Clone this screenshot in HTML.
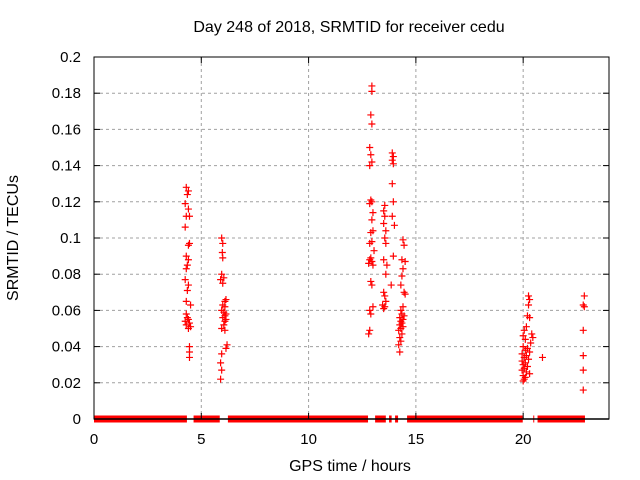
<!DOCTYPE html>
<html><head><meta charset="utf-8"><style>
html,body{margin:0;padding:0;background:#fff;}
svg{display:block;font-family:"Liberation Sans",sans-serif;}
</style></head><body>
<svg id="chart" width="640" height="480" viewBox="0 0 640 480">
<rect width="640" height="480" fill="#fff"/>
<text x="349" y="32" font-size="16" text-anchor="middle" fill="#000">Day 248 of 2018, SRMTID for receiver cedu</text>
<text x="350" y="471" font-size="16" text-anchor="middle" fill="#000">GPS time / hours</text>
<text x="18" y="238" font-size="16" text-anchor="middle" fill="#000" transform="rotate(-90 18 238)">SRMTID / TECUs</text>
<g id="grid"></g>
<g id="marks"></g>
<g id="axes"></g>
</svg>
<script>
const xTicks=[0,5,10,15,20];
const yTicks=[0,0.02,0.04,0.06,0.08,0.1,0.12,0.14,0.16,0.18,0.2];
const yTickLabels=["0","0.02","0.04","0.06","0.08","0.1","0.12","0.14","0.16","0.18","0.2"];
const zeroRanges=[[0,4.33],[4.64,5.86],[6.24,12.77],[13.1,13.6],[13.75,13.87],[14.03,14.17],[14.59,19.98],[20.47,20.5],[20.67,22.88]];
const times=[
4.3,4.4,4.35,4.25,4.4,4.3,4.45,4.25,4.45,4.4,4.3,4.4,4.35,4.3,4.25,4.4,4.35,4.3,4.5,4.3,4.35,4.4,4.25,4.45,4.3,4.5,4.4,4.45,4.45,4.45,
5.95,6.0,5.98,6.0,5.95,6.05,5.9,6.0,6.15,6.1,6.0,6.1,5.95,6.05,6.15,6.1,6.0,6.15,6.1,6.05,5.95,6.1,6.2,6.15,5.95,5.9,5.95,5.9,
12.95,12.95,12.9,12.95,12.85,12.9,12.95,12.85,12.9,12.95,12.85,13.0,12.95,13.0,12.9,12.95,12.85,13.05,12.9,12.85,12.95,12.8,13.0,12.9,12.95,13.0,12.85,12.9,12.85,12.8,
13.55,13.5,13.55,13.5,13.6,13.55,13.6,13.5,13.65,13.6,13.5,13.55,13.6,13.45,13.5,13.55,
13.9,13.95,13.9,13.95,13.9,13.95,13.9,14.0,13.95,13.85,
14.4,14.45,14.35,14.5,14.4,14.35,14.3,14.45,14.5,14.4,14.3,14.35,14.45,14.25,14.4,14.3,14.35,14.25,14.4,14.3,14.2,14.35,14.25,14.3,14.2,14.25,
20.25,20.3,20.25,20.2,20.3,20.15,20.05,20.4,20.0,20.45,20.1,20.35,20.0,20.2,20.1,20.3,19.95,20.15,20.05,20.25,19.95,20.1,20.0,20.2,20.05,19.95,20.15,20.3,20.0,20.1,20.05,20.0,20.9,
22.85,22.8,22.85,22.8,22.8,22.8,22.8];
const values=[
0.128,0.126,0.124,0.119,0.116,0.112,0.112,0.106,0.097,0.096,0.09,0.088,0.085,0.083,0.077,0.074,0.071,0.065,0.063,0.058,0.056,0.055,0.054,0.053,0.052,0.051,0.05,0.04,0.037,0.034,
0.1,0.097,0.092,0.089,0.08,0.078,0.077,0.075,0.066,0.065,0.063,0.062,0.06,0.059,0.058,0.057,0.056,0.055,0.054,0.052,0.05,0.049,0.041,0.039,0.036,0.031,0.027,0.022,
0.184,0.181,0.168,0.163,0.15,0.146,0.142,0.14,0.121,0.12,0.119,0.114,0.11,0.104,0.103,0.098,0.097,0.093,0.089,0.088,0.087,0.086,0.085,0.076,0.074,0.062,0.06,0.058,0.049,0.047,
0.118,0.115,0.112,0.108,0.104,0.1,0.097,0.088,0.085,0.08,0.07,0.068,0.065,0.063,0.061,0.062,
0.147,0.145,0.143,0.141,0.13,0.12,0.112,0.107,0.09,0.074,
0.099,0.096,0.088,0.087,0.083,0.079,0.074,0.07,0.069,0.062,0.06,0.058,0.057,0.056,0.055,0.054,0.053,0.052,0.051,0.05,0.049,0.047,0.045,0.043,0.041,0.037,
0.068,0.066,0.063,0.057,0.056,0.051,0.049,0.047,0.046,0.045,0.044,0.042,0.04,0.039,0.038,0.037,0.036,0.035,0.034,0.033,0.032,0.031,0.03,0.029,0.028,0.027,0.026,0.025,0.024,0.023,0.022,0.021,0.034,
0.068,0.063,0.062,0.049,0.035,0.027,0.016];

const NS="http://www.w3.org/2000/svg";
const L=94,R=609,T=57,B=419,XMAX=24,YMAX=0.2;
function xs(v){return L+(R-L)*v/XMAX;}
function ys(v){return B-(B-T)*v/YMAX;}
function mk(tag,attrs,parent){const e=document.createElementNS(NS,tag);for(const k in attrs)e.setAttribute(k,attrs[k]);parent.appendChild(e);return e;}
const grid=document.getElementById('grid'),marks=document.getElementById('marks'),axes=document.getElementById('axes');
xTicks.forEach((t,i)=>{
  const x=xs(t);
  if(t>0){const g=mk('line',{x1:x,x2:x,y1:T,y2:B,stroke:'#a0a0a0','stroke-dasharray':'3,3','stroke-width':1},grid);
  
  }
  const a=mk('line',{x1:x,x2:x,y1:B,y2:B-6,stroke:'#000'},axes);
  
  
  const b=mk('line',{x1:x,x2:x,y1:T,y2:T+6,stroke:'#000'},axes);
  
  
  const tx=mk('text',{x:x,y:444,'font-size':15,'text-anchor':'middle',fill:'#000'},axes);
  tx.textContent=String(t);
  
  
});
yTicks.forEach((t,i)=>{
  const y=ys(t);
  if(t>0&&t<YMAX){const g=mk('line',{x1:L,x2:R,y1:y,y2:y,stroke:'#a0a0a0','stroke-dasharray':'3,3','stroke-width':1},grid);
  
  }
  const a=mk('line',{x1:L,x2:L+6,y1:y,y2:y,stroke:'#000'},axes);
  
  
  const b=mk('line',{x1:R,x2:R-6,y1:y,y2:y,stroke:'#000'},axes);
  
  
  const tx=mk('text',{x:81,y:y+5,'font-size':15,'text-anchor':'end',fill:'#000'},axes);
  tx.textContent=yTickLabels[i];
  
  
});
zeroRanges.forEach(r=>{
  const x1=xs(r[0]),x2=xs(r[1]);
  const e=mk('rect',{x:x1,y:ys(0)-3.5,width:Math.max(1,x2-x1),height:7,fill:'#ff0000'},marks);
  
  
});
times.forEach((t,i)=>{
  const x=xs(t),y=ys(values[i]);
  const p=mk('path',{d:`M${x-3.5},${y}H${x+3.5}M${x},${y-3.5}V${y+3.5}`,stroke:'#ff0000','stroke-width':1.2,fill:'none'},marks);
  
  
});
const fr=mk('rect',{x:L,y:T,width:R-L,height:B-T,fill:'none',stroke:'#000','stroke-width':1},axes);


const zl=mk('line',{x1:L,x2:R,y1:B,y2:B,stroke:'#000','stroke-width':1.5},axes);


</script>
</body></html>
